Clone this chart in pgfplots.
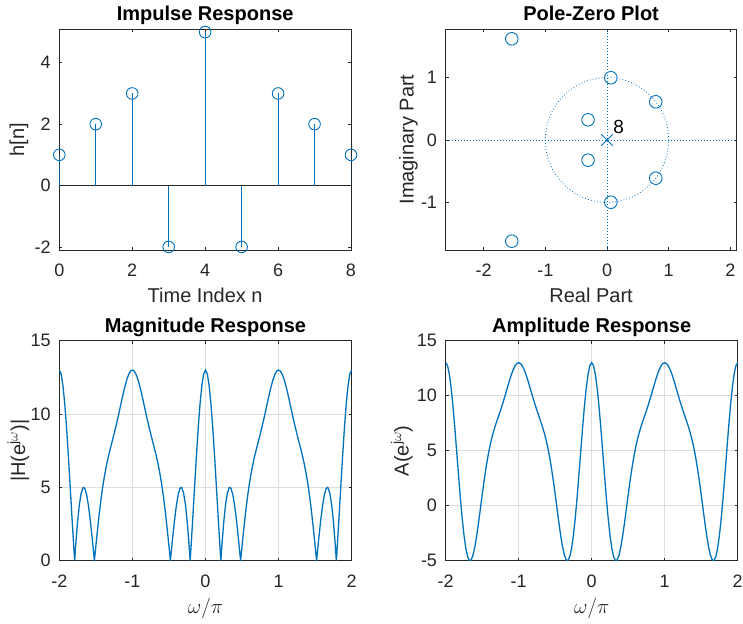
\documentclass[border=0pt]{standalone}
\usepackage{fontspec}
\setmainfont{Liberation Sans}
\usepackage{pgfplots}
\pgfplotsset{compat=1.18}
\usepackage{pgfplotstable}
\definecolor{mblue}{rgb}{0,0.447,0.741}
\definecolor{axgray}{rgb}{0.15,0.15,0.15}
\definecolor{gridgray}{rgb}{0.87,0.87,0.87}

\pgfplotstableread{
t A M
-2.000 13.000 13.000
-1.975 12.730 12.730
-1.950 11.938 11.938
-1.925 10.674 10.674
-1.900 9.019 9.019
-1.875 7.078 7.078
-1.850 4.970 4.970
-1.825 2.824 2.824
-1.800 0.764 0.764
-1.790 0 0
-1.775 -1.095 1.095
-1.750 -2.657 2.657
-1.725 -3.849 3.849
-1.700 -4.627 4.627
-1.675 -4.977 4.977
-1.667 -5.000 5.000
-1.650 -4.911 4.911
-1.625 -4.469 4.469
-1.600 -3.708 3.708
-1.575 -2.702 2.702
-1.550 -1.530 1.530
-1.525 -0.272 0.272
-1.520 0 0
-1.500 1.000 1.000
-1.475 2.224 2.224
-1.450 3.354 3.354
-1.425 4.361 4.361
-1.400 5.236 5.236
-1.375 5.984 5.984
-1.350 6.622 6.622
-1.325 7.178 7.178
-1.300 7.683 7.683
-1.275 8.168 8.168
-1.250 8.657 8.657
-1.225 9.168 9.168
-1.200 9.708 9.708
-1.175 10.273 10.273
-1.150 10.847 10.847
-1.125 11.407 11.407
-1.100 11.925 11.925
-1.075 12.369 12.369
-1.050 12.711 12.711
-1.025 12.927 12.927
-1.000 13.000 13.000
-0.975 12.927 12.927
-0.950 12.711 12.711
-0.925 12.369 12.369
-0.900 11.925 11.925
-0.875 11.407 11.407
-0.850 10.847 10.847
-0.825 10.273 10.273
-0.800 9.708 9.708
-0.775 9.168 9.168
-0.750 8.657 8.657
-0.725 8.168 8.168
-0.700 7.683 7.683
-0.675 7.178 7.178
-0.650 6.622 6.622
-0.625 5.984 5.984
-0.600 5.236 5.236
-0.575 4.361 4.361
-0.550 3.354 3.354
-0.525 2.224 2.224
-0.500 1.000 1.000
-0.480 0 0
-0.475 -0.272 0.272
-0.450 -1.530 1.530
-0.425 -2.702 2.702
-0.400 -3.708 3.708
-0.375 -4.469 4.469
-0.350 -4.911 4.911
-0.333 -5.000 5.000
-0.325 -4.977 4.977
-0.300 -4.627 4.627
-0.275 -3.849 3.849
-0.250 -2.657 2.657
-0.225 -1.095 1.095
-0.210 0 0
-0.200 0.764 0.764
-0.175 2.824 2.824
-0.150 4.970 4.970
-0.125 7.078 7.078
-0.100 9.019 9.019
-0.075 10.674 10.674
-0.050 11.938 11.938
-0.025 12.730 12.730
0.000 13.000 13.000
0.025 12.730 12.730
0.050 11.938 11.938
0.075 10.674 10.674
0.100 9.019 9.019
0.125 7.078 7.078
0.150 4.970 4.970
0.175 2.824 2.824
0.200 0.764 0.764
0.210 0 0
0.225 -1.095 1.095
0.250 -2.657 2.657
0.275 -3.849 3.849
0.300 -4.627 4.627
0.325 -4.977 4.977
0.333 -5.000 5.000
0.350 -4.911 4.911
0.375 -4.469 4.469
0.400 -3.708 3.708
0.425 -2.702 2.702
0.450 -1.530 1.530
0.475 -0.272 0.272
0.480 0 0
0.500 1.000 1.000
0.525 2.224 2.224
0.550 3.354 3.354
0.575 4.361 4.361
0.600 5.236 5.236
0.625 5.984 5.984
0.650 6.622 6.622
0.675 7.178 7.178
0.700 7.683 7.683
0.725 8.168 8.168
0.750 8.657 8.657
0.775 9.168 9.168
0.800 9.708 9.708
0.825 10.273 10.273
0.850 10.847 10.847
0.875 11.407 11.407
0.900 11.925 11.925
0.925 12.369 12.369
0.950 12.711 12.711
0.975 12.927 12.927
1.000 13.000 13.000
1.025 12.927 12.927
1.050 12.711 12.711
1.075 12.369 12.369
1.100 11.925 11.925
1.125 11.407 11.407
1.150 10.847 10.847
1.175 10.273 10.273
1.200 9.708 9.708
1.225 9.168 9.168
1.250 8.657 8.657
1.275 8.168 8.168
1.300 7.683 7.683
1.325 7.178 7.178
1.350 6.622 6.622
1.375 5.984 5.984
1.400 5.236 5.236
1.425 4.361 4.361
1.450 3.354 3.354
1.475 2.224 2.224
1.500 1.000 1.000
1.520 0 0
1.525 -0.272 0.272
1.550 -1.530 1.530
1.575 -2.702 2.702
1.600 -3.708 3.708
1.625 -4.469 4.469
1.650 -4.911 4.911
1.667 -5.000 5.000
1.675 -4.977 4.977
1.700 -4.627 4.627
1.725 -3.849 3.849
1.750 -2.657 2.657
1.775 -1.095 1.095
1.790 0 0
1.800 0.764 0.764
1.825 2.824 2.824
1.850 4.970 4.970
1.875 7.078 7.078
1.900 9.019 9.019
1.925 10.674 10.674
1.950 11.938 11.938
1.975 12.730 12.730
2.000 13.000 13.000
}\freqtab

\pgfplotsset{
  mstyle/.style={
    scale only axis,
    anchor=south west,
    axis line style={axgray, line width=0.7pt},
    tick style={axgray, line width=0.6pt},
    tick align=inside,
    major tick length=3pt,
    /pgf/number format/assume math mode=true,
    ticklabel style={font=\fontsize{18}{20}\selectfont, text=axgray},
    xticklabel style={anchor=base, yshift=-27pt},
    yticklabel style={anchor=east, inner sep=0pt, xshift=-8.5pt},
    label style={font=\fontsize{20}{22}\selectfont, text=axgray},
    xlabel style={at={(axis description cs:0.5,0)}, anchor=base, yshift=-53pt},
    title style={font=\fontsize{20}{22}\selectfont\bfseries, at={(axis description cs:0.5,1)}, anchor=base, yshift=2.5pt},
  },
  gstyle/.style={
    grid=major,
    major grid style={gridgray, line width=0.6pt},
  },
}

\begin{document}
\begin{tikzpicture}
\useasboundingbox (0,0) rectangle (743pt,623pt);

% Impulse response
\begin{axis}[mstyle, at={(59.3pt,373pt)}, width=291.7pt, height=221pt,
  xmin=0, xmax=8, ymin=-2.1, ymax=5.1,
  xtick={0,2,4,6,8}, ytick={-2,0,2,4},
  title={Impulse Response}, xlabel={Time Index n}, ylabel={h[n]},
  ylabel style={at={(axis description cs:-0.138,0.5)}, anchor=center}]
\addplot[axgray, line width=0.6pt] coordinates {(0,0) (8,0)};
\addplot[ycomb, mblue, line width=0.9pt, mark=o, mark size=5.8pt, mark options={solid, line width=0.9pt}]
  coordinates {(0,1) (1,2) (2,3) (3,-2) (4,5) (5,-2) (6,3) (7,2) (8,1)};
\end{axis}

% Pole-zero plot
\begin{axis}[mstyle, at={(445.7pt,373pt)}, width=290.8pt, height=221pt,
  xmin=-2.616, xmax=2.10, ymin=-1.764, ymax=1.78,
  xtick={-2,-1,0,1,2}, ytick={-1,0,1},
  title={Pole-Zero Plot}, xlabel={Real Part}, ylabel={Imaginary Part},
  ylabel style={at={(axis description cs:-0.128,0.5)}, anchor=center}]
\addplot[mblue, line width=0.8pt, dash pattern=on 0.8pt off 2.2pt] coordinates {(-2.616,0) (2.10,0)};
\addplot[mblue, line width=0.8pt, dash pattern=on 0.8pt off 2.2pt] coordinates {(0,-1.764) (0,1.78)};
\draw[mblue, line width=0.8pt, dash pattern=on 0.8pt off 2.2pt] (axis cs:0,0) ellipse [x radius=1, y radius=1];
\addplot[only marks, mblue, mark=o, mark size=6.3pt, mark options={line width=0.9pt}]
  coordinates {(-1.5444,1.6225) (-1.5444,-1.6225) (-0.3078,0.3234) (-0.3078,-0.3234)
               (0.0618,0.9981) (0.0618,-0.9981) (0.7904,0.6126) (0.7904,-0.6126)};
\addplot[only marks, mblue, mark=x, mark size=8pt, mark options={line width=0.9pt}]
  coordinates {(0,0)};
\node[anchor=base west, inner sep=0pt, font=\fontsize{19}{21}\selectfont, text=black] at (axis cs:0.1,0.107) {8};
\end{axis}

% Magnitude response
\begin{axis}[mstyle, gstyle, at={(59.3pt,62.3pt)}, width=292.4pt, height=220pt,
  xmin=-2, xmax=2, ymin=0, ymax=15,
  xtick={-2,-1,0,1,2}, ytick={0,5,10,15},
  title={Magnitude Response}, xlabel={$\omega/\pi$},
  ylabel={|H(e\textsuperscript{j$\omega$})|},
  ylabel style={at={(axis description cs:-0.140,0.5)}, anchor=center}]
\addplot[mblue, line width=1.3pt] table[x=t, y=M] {\freqtab};
\end{axis}

% Amplitude response
\begin{axis}[mstyle, gstyle, at={(445.7pt,62.3pt)}, width=292pt, height=220pt,
  xmin=-2, xmax=2, ymin=-5, ymax=15,
  xtick={-2,-1,0,1,2}, ytick={-5,0,5,10,15},
  title={Amplitude Response}, xlabel={$\omega/\pi$},
  ylabel={A(e\textsuperscript{j$\omega$})},
  ylabel style={at={(axis description cs:-0.150,0.5)}, anchor=center}]
\addplot[mblue, line width=1.3pt] table[x=t, y=A] {\freqtab};
\end{axis}
\end{tikzpicture}
\end{document}
